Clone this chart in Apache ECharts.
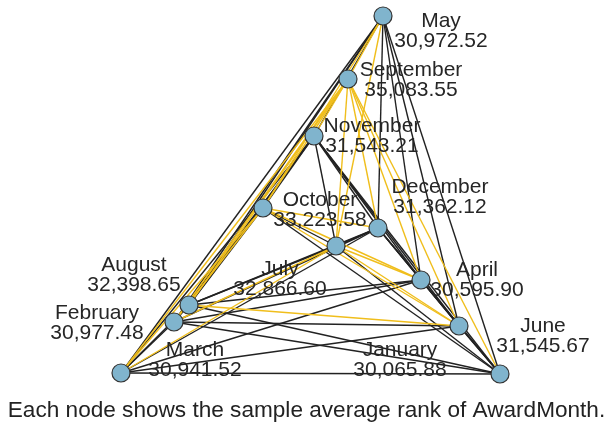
<!DOCTYPE html>
<html lang="en">
<head>
    <meta charset="UTF-8">
    <title>AwardMonth pairwise comparisons</title>
    <script src="https://cdn.jsdelivr.net/npm/echarts@6/dist/echarts.min.js"></script>
    <style>
        html, body { margin: 0; padding: 0; background: #fff; }
    </style>
</head>
<body>

<div id="main" style="width:613px;height:431px"></div>
<script type="text/javascript">

    // months and their sample average rank
    var months = ['May', 'September', 'November', 'October', 'December', 'July',
        'April', 'January', 'June', 'August', 'February', 'March'];
    var avgRank = [30972.52, 35083.55, 31543.21, 33223.58, 31362.12, 32866.60,
        30595.90, 30065.88, 31545.67, 32398.65, 30977.48, 30941.52];

    // node layout as drawn in the picture
    var layoutX = [383, 348, 314, 263, 378, 336, 421, 459, 500, 189, 174, 121];
    var layoutY = [16, 79, 136, 208, 228, 246, 280, 326, 374, 305, 322, 373];

    // label offsets from node centre
    var labelDx = [58, 63, 58, 57, 62, -56, 56, -59, 43, -55, -77, 74];
    var labelDy = [15, 1, 0, 2, -31, 33, 0, 34, -38, -30, 1, -13];

    // pairs drawn in yellow (significant); every other pair is black
    var sigPairs = [
        ['September', 'May'], ['September', 'November'], ['September', 'October'],
        ['September', 'December'], ['September', 'July'], ['September', 'April'],
        ['September', 'January'], ['September', 'June'], ['September', 'August'],
        ['September', 'February'], ['September', 'March'],
        ['October', 'May'], ['October', 'December'], ['October', 'April'],
        ['October', 'January'], ['October', 'February'], ['October', 'March'],
        ['July', 'May'], ['July', 'April'], ['July', 'January'],
        ['July', 'February'], ['July', 'March'],
        ['August', 'January']
    ];

    var caption = 'Each node shows the sample average rank of AwardMonth.';

    function isSig(a, b) {
        for (var k = 0; k < sigPairs.length; k++) {
            var p = sigPairs[k];
            if ((p[0] === a && p[1] === b) || (p[0] === b && p[1] === a)) return true;
        }
        return false;
    }

    var nodes = months.map(function (m, i) {
        return {
            name: m,
            value: [layoutX[i], layoutY[i]],
            label: {
                offset: [labelDx[i], labelDy[i]],
                formatter: m + '\n' + echarts.format.addCommas(avgRank[i].toFixed(2))
            }
        };
    });

    var blackLinks = [], yellowLinks = [];
    for (var i = 0; i < months.length; i++) {
        for (var j = i + 1; j < months.length; j++) {
            if (isSig(months[i], months[j])) {
                yellowLinks.push({source: months[i], target: months[j],
                    lineStyle: {color: '#f0be1c', width: 1.4}});
            } else {
                blackLinks.push({source: months[i], target: months[j],
                    lineStyle: {color: '#222222', width: 1.4}});
            }
        }
    }

    var chart = echarts.init(document.getElementById('main'));
    var option = {
        animation: false,
        backgroundColor: '#ffffff',
        grid: {left: 0, right: 0, top: 0, bottom: 0},
        xAxis: {type: 'value', min: 0, max: 613, show: false},
        yAxis: {type: 'value', min: 0, max: 431, inverse: true, show: false},
        graphic: [{
            type: 'text',
            left: 'center',
            top: 399,
            style: {
                text: caption,
                fill: '#222',
                font: '22.6px "Liberation Sans", Arial, sans-serif'
            }
        }],
        series: [{
            type: 'graph',
            layout: 'none',
            coordinateSystem: 'cartesian2d',
            silent: true,
            symbol: 'circle',
            symbolSize: 18,
            itemStyle: {color: '#80b4cd', borderColor: '#333', borderWidth: 1.2},
            label: {
                show: true,
                position: 'inside',
                align: 'center',
                verticalAlign: 'middle',
                color: '#262626',
                fontFamily: '"Liberation Sans", Arial, sans-serif',
                fontSize: 21,
                lineHeight: 20
            },
            lineStyle: {opacity: 1, curveness: 0},
            data: nodes,
            links: blackLinks.concat(yellowLinks)
        }]
    };
    chart.setOption(option);

</script>

</body>
</html>
